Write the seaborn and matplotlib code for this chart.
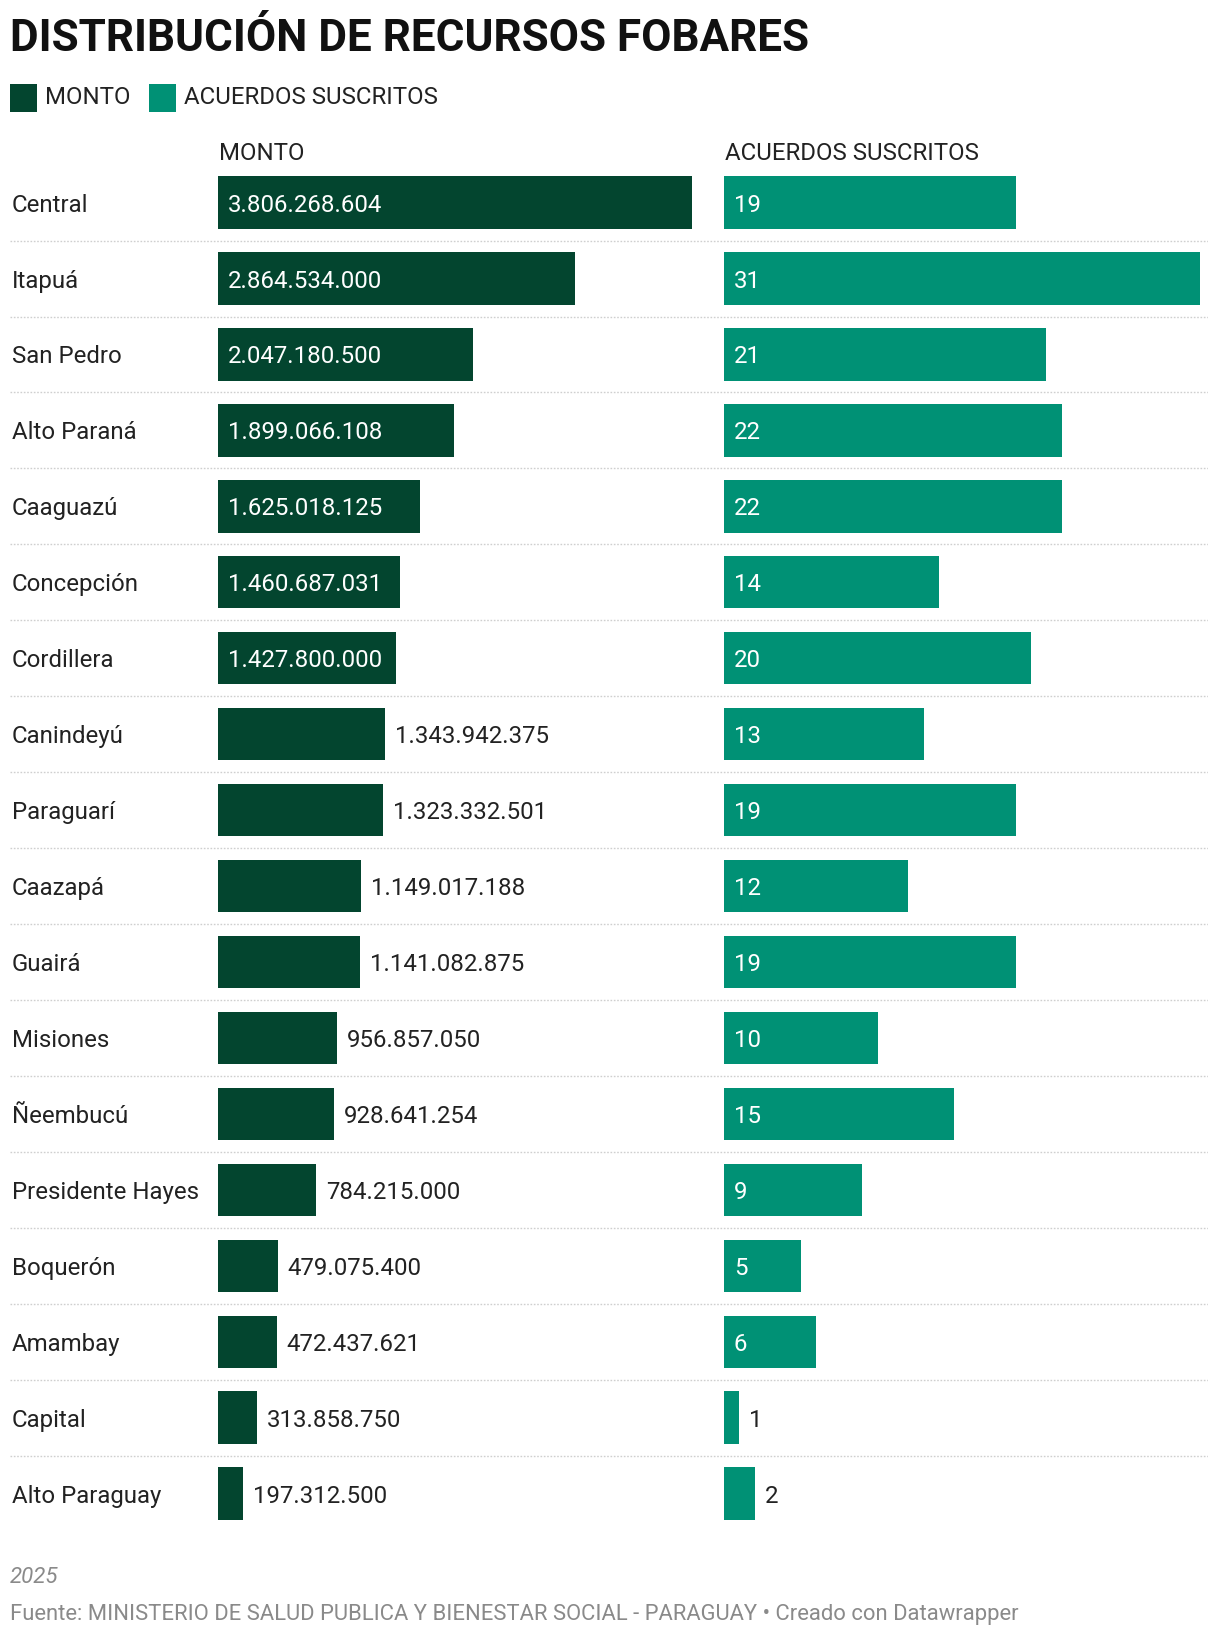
import matplotlib
matplotlib.use("Agg")
import matplotlib.pyplot as plt
import matplotlib.transforms as mtransforms
from matplotlib.patches import Rectangle
import seaborn as sns
import pandas as pd

# ----------------------------
# Data
# ----------------------------
departamentos = [
    "Central", "Itapuá", "San Pedro", "Alto Paraná", "Caaguazú", "Concepción",
    "Cordillera", "Canindeyú", "Paraguarí", "Caazapá", "Guairá", "Misiones",
    "Ñeembucú", "Presidente Hayes", "Boquerón", "Amambay", "Capital", "Alto Paraguay",
]
monto = [
    3806268604, 2864534000, 2047180500, 1899066108, 1625018125, 1460687031,
    1427800000, 1343942375, 1323332501, 1149017188, 1141082875, 956857050,
    928641254, 784215000, 479075400, 472437621, 313858750, 197312500,
]
acuerdos = [19, 31, 21, 22, 22, 14, 20, 13, 19, 12, 19, 10, 15, 9, 5, 6, 1, 2]

TITLE = "DISTRIBUCIÓN DE RECURSOS FOBARES"
COL_MONTO = "MONTO"
COL_ACUERDOS = "ACUERDOS SUSCRITOS"
NOTE = "2025"
SOURCE = "Fuente: MINISTERIO DE SALUD PUBLICA Y BIENESTAR SOCIAL - PARAGUAY • Creado con Datawrapper"

DARK = "#03452f"
TEAL = "#009175"
TXT = "#222222"
GREY = "#8a8a8a"
FS = 17.3

df = pd.DataFrame({"departamento": departamentos, "monto": monto, "acuerdos": acuerdos})


def fmt_es(v):
    return f"{v:,}".replace(",", ".")


# ----------------------------
# Layout (pixels -> figure fractions)
# ----------------------------
W, H = 1220, 1638
sns.set_theme(style="white")
plt.rcParams["font.family"] = ["Roboto", "DejaVu Sans"]

fig = plt.figure(figsize=(W / 100, H / 100), dpi=100)
fig.patch.set_facecolor("white")

n = len(df)
row_px = 75.94
top_px = 202.6 - row_px / 2
bot_px = top_px + n * row_px
ax_bottom = 1 - bot_px / H
ax_height = (bot_px - top_px) / H

# background axes: separators + row labels
ax_bg = fig.add_axes([10 / W, ax_bottom, 1198 / W, ax_height])
ax_bg.set_xlim(0, 1)
ax_bg.set_ylim(n - 0.5, -0.5)
ax_bg.set_axis_off()
for i in range(n - 1):
    ax_bg.axhline(i + 0.5, color="#cfcfcf", lw=1.0, linestyle=(0, (1.2, 1.2)))
for i, name in enumerate(df["departamento"]):
    ax_bg.text(2 / 1198, i, name, ha="left", va="center_baseline",
               fontsize=FS, color=TXT)

ax1 = fig.add_axes([218 / W, ax_bottom, (692 - 218) / W, ax_height])
ax2 = fig.add_axes([724 / W, ax_bottom, (1200 - 724) / W, ax_height])

sns.barplot(data=df, x="monto", y="departamento", orient="h", color=DARK,
            saturation=1, width=0.69, linewidth=0, ax=ax1)
sns.barplot(data=df, x="acuerdos", y="departamento", orient="h", color=TEAL,
            saturation=1, width=0.69, linewidth=0, ax=ax2)

ax1.set_xlim(0, max(monto))
ax2.set_xlim(0, max(acuerdos))
for ax in (ax1, ax2):
    ax.set_ylim(n - 0.5, -0.5)
    ax.set_axis_off()

# ----------------------------
# Value labels (inside if they fit, else outside)
# ----------------------------
renderer = fig.canvas.get_renderer()
pad = 10


def label_bars(ax, values, labels):
    for i, (v, lab) in enumerate(zip(values, labels)):
        x0 = ax.transData.transform((0, i))[0]
        x1 = ax.transData.transform((v, i))[0]
        t = ax.text(0, i, lab, fontsize=FS, va="center_baseline", ha="left",
                    transform=mtransforms.offset_copy(ax.transData, fig, x=pad, units="dots"))
        w = t.get_window_extent(renderer).width
        if w + 2 * pad <= x1 - x0:
            t.set_color("white")
        else:
            t.set_position((v, i))
            t.set_color(TXT)


label_bars(ax1, df["monto"], [fmt_es(v) for v in df["monto"]])
label_bars(ax2, df["acuerdos"], [str(v) for v in df["acuerdos"]])

# column headers
for ax, head in ((ax1, COL_MONTO), (ax2, COL_ACUERDOS)):
    ax.text(0, 1, head, transform=mtransforms.offset_copy(ax.transAxes, fig, x=1, y=5, units="dots"),
            ha="left", va="baseline", fontsize=FS, color=TXT)

# ----------------------------
# Title, legend, footer
# ----------------------------
fig.text(10 / W, 1 - 51 / H, TITLE, ha="left", va="baseline", fontsize=31.7,
         fontweight="bold", color="#111111")

for x_px, col, lab, tx_px in ((10, DARK, COL_MONTO, 45), (149, TEAL, COL_ACUERDOS, 184)):
    fig.patches.append(Rectangle((x_px / W, 1 - 112 / H), 27 / W, 28 / H,
                                 transform=fig.transFigure, color=col, lw=0))
    fig.text(tx_px / W, 1 - 104 / H, lab, ha="left", va="baseline", fontsize=FS, color=TXT)

fig.text(10 / W, 1 - 1583 / H, NOTE, ha="left", va="baseline", fontsize=16,
         style="italic", color=GREY)
fig.text(10 / W, 1 - 1620 / H, SOURCE, ha="left", va="baseline", fontsize=15.8, color=GREY)

fig.savefig("out.png", dpi=100, facecolor="white")
